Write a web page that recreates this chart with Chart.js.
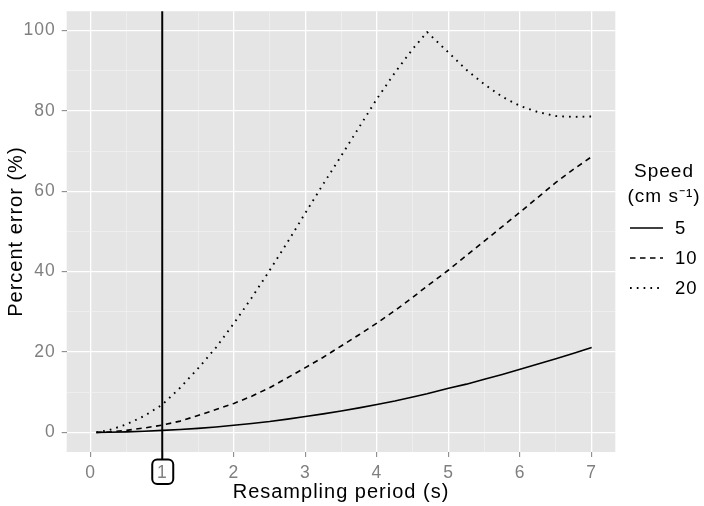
<!DOCTYPE html>
<html>
<head>
<meta charset="utf-8">
<script src="https://cdn.jsdelivr.net/npm/chart.js@4"></script>
<style>
  body { margin: 0; background: #fff; }
  canvas { display: block; }
</style>
</head>
<body>
<canvas id="errorChart" width="704" height="506"></canvas>
<script>
// resampling period (s)
const periods = [0.08, 0.25, 0.5, 0.75, 1, 1.25, 1.5, 1.75, 2, 2.25, 2.5, 2.75, 3, 3.25, 3.5, 3.75, 4, 4.25, 4.5, 4.7, 5, 5.25, 5.5, 5.75, 6, 6.25, 6.5, 6.75, 7];
// percent error for each speed (cm s-1)
const speed5 = [0, 0.03, 0.12, 0.27, 0.5, 0.72, 1.0, 1.35, 1.78, 2.2, 2.7, 3.3, 3.95, 4.6, 5.3, 6.1, 6.95, 7.8, 8.8, 9.6, 11.0, 12.0, 13.2, 14.4, 15.7, 17.0, 18.3, 19.7, 21.1];
const speed10 = [0, 0.1, 0.5, 1.1, 1.8, 2.8, 4.2, 5.7, 7.2, 9.0, 11.1, 13.6, 16.1, 18.7, 21.5, 24.3, 27.2, 30.3, 33.6, 36.4, 40.4, 44.0, 47.6, 51.2, 54.8, 58.5, 62.2, 65.5, 68.6];
const speed20 = [0, 0.5, 2.0, 4.1, 6.9, 11.1, 15.9, 21.1, 27.1, 33.5, 40.3, 47.3, 54.6, 61.8, 68.8, 75.9, 83.0, 89.5, 95.4, 99.6, 94.5, 90.2, 86.6, 83.5, 81.2, 79.7, 78.7, 78.5, 78.6];
const speedLabels = ['5', '10', '20'];
const xTicks = [0, 0.5, 1, 1.5, 2, 2.5, 3, 3.5, 4, 4.5, 5, 5.5, 6, 6.5, 7];
const yTicks = [0, 10, 20, 30, 40, 50, 60, 70, 80, 90, 100];
const markedPeriod = 1;

const FONT = '"Liberation Sans", Arial, sans-serif';
const GREY = '#7f7f7f';

function toPoints(ys) {
    return periods.map((x, i) => ({ x: x, y: ys[i] }));
}

// ggplot-ish panel, marked period line + boxed tick, legend
const panelPlugin = {
    id: 'panel',
    beforeLayout(chart) {
        chart.ctx.letterSpacing = '1px';
    },
    beforeDraw(chart) {
        const { ctx, chartArea } = chart;
        ctx.letterSpacing = '1px';
        ctx.save();
        ctx.fillStyle = '#e5e5e5';
        ctx.fillRect(chartArea.left, chartArea.top, chartArea.right - chartArea.left, chartArea.bottom - chartArea.top);
        ctx.restore();
    },
    afterDraw(chart) {
        const { ctx, chartArea } = chart;
        const px = chart.scales.x.getPixelForValue(markedPeriod);

        // vertical line down to the boxed label
        ctx.save();
        ctx.strokeStyle = '#000';
        ctx.lineWidth = 2;
        ctx.beginPath();
        ctx.moveTo(px, chartArea.top);
        ctx.lineTo(px, 459.5);
        ctx.stroke();

        // rounded box round tick label "1"
        ctx.beginPath();
        ctx.roundRect(px - 10, 459.5, 21, 24.5, 5);
        ctx.stroke();
        ctx.restore();

        // legend
        ctx.save();
        ctx.fillStyle = '#000';
        ctx.textBaseline = 'middle';
        ctx.textAlign = 'center';
        ctx.font = '19px ' + FONT;
        ctx.fillText('Speed', 664, 172);
        ctx.fillText('(cm s\u207B\u00B9)', 664, 197);
        ctx.textAlign = 'left';
        ctx.font = '18.5px ' + FONT;
        chart.data.datasets.forEach((ds, i) => {
            const y = 228 + i * 30;
            ctx.strokeStyle = ds.borderColor;
            ctx.lineWidth = ds.borderWidth;
            ctx.setLineDash(ds.borderDash || []);
            ctx.beginPath();
            ctx.moveTo(630, y);
            ctx.lineTo(663, y);
            ctx.stroke();
            ctx.setLineDash([]);
            ctx.fillText(speedLabels[i], 675, y + 1);
        });
        ctx.restore();
    }
};

const isMajorX = v => Number.isInteger(v);
const isMajorY = v => v % 20 === 0;

new Chart(document.getElementById('errorChart'), {
    type: 'line',
    data: {
        datasets: [
            { label: speedLabels[0], data: toPoints(speed5), borderColor: '#000', borderWidth: 1.6, borderDash: [] },
            { label: speedLabels[1], data: toPoints(speed10), borderColor: '#000', borderWidth: 1.6, borderDash: [5.5, 4.5] },
            { label: speedLabels[2], data: toPoints(speed20), borderColor: '#000', borderWidth: 1.9, borderDash: [1.7, 5.1] }
        ]
    },
    options: {
        responsive: false,
        animation: false,
        devicePixelRatio: 1,
        layout: { padding: { left: 0, top: 9, right: 88.7, bottom: 2 } },
        elements: {
            point: { radius: 0, hoverRadius: 0 },
            line: { tension: 0, fill: false, borderCapStyle: 'butt' }
        },
        plugins: {
            legend: { display: false },
            tooltip: { enabled: false }
        },
        scales: {
            x: {
                type: 'linear',
                min: -0.335,
                max: 7.33,
                afterBuildTicks: s => { s.ticks = xTicks.map(v => ({ value: v })); },
                afterFit: s => { s.height = 506 - 2 - 452; },
                border: { display: false },
                grid: {
                    color: c => isMajorX(c.tick.value) ? '#ffffff' : '#f2f2f2',
                    lineWidth: c => isMajorX(c.tick.value) ? 1.3 : 0.7,
                    tickColor: c => isMajorX(c.tick.value) ? GREY : 'rgba(0,0,0,0)',
                    tickLength: 5,
                    tickWidth: 1
                },
                ticks: {
                    autoSkip: false,
                    maxRotation: 0,
                    padding: 6,
                    color: GREY,
                    font: { family: FONT, size: 17.5 },
                    callback: v => isMajorX(v) ? String(v) : ''
                },
                title: {
                    display: true,
                    text: 'Resampling period (s)',
                    color: '#000',
                    font: { family: FONT, size: 20 },
                    padding: { top: 0, bottom: 0 }
                }
            },
            y: {
                type: 'linear',
                min: -4.88,
                max: 104.78,
                afterBuildTicks: s => { s.ticks = yTicks.map(v => ({ value: v })); },
                afterFit: s => { s.width = 66.7; },
                border: { display: false },
                grid: {
                    color: c => isMajorY(c.tick.value) ? '#ffffff' : '#f2f2f2',
                    lineWidth: c => isMajorY(c.tick.value) ? 1.3 : 0.7,
                    tickColor: c => isMajorY(c.tick.value) ? GREY : 'rgba(0,0,0,0)',
                    tickLength: 5,
                    tickWidth: 1
                },
                ticks: {
                    autoSkip: false,
                    padding: 6,
                    color: GREY,
                    font: { family: FONT, size: 17.5, lineHeight: 0.6 },
                    callback: v => isMajorY(v) ? String(v) : ''
                },
                title: {
                    display: true,
                    text: 'Percent error (%)',
                    color: '#000',
                    font: { family: FONT, size: 20 },
                    padding: { top: 4, bottom: 0 }
                }
            }
        }
    },
    plugins: [panelPlugin]
});
</script>
</body>
</html>
